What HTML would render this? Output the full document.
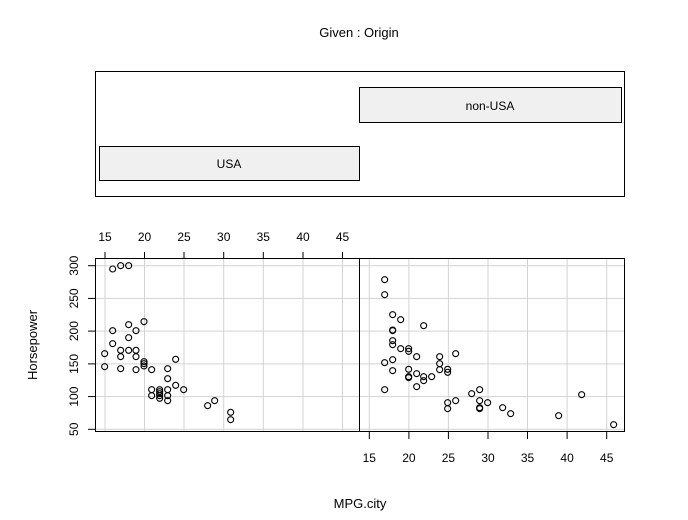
<!DOCTYPE html>
<html><head><meta charset="utf-8"><style>
html,body{margin:0;padding:0;background:#fff;}
svg{display:block;font-family:"Liberation Sans",Arial,sans-serif;}
</style></head><body>
<svg width="688" height="520" viewBox="0 0 688 520" xmlns="http://www.w3.org/2000/svg">
<rect width="688" height="520" fill="#fff"/>
<text x="359" y="37" font-size="13" text-anchor="middle">Given : Origin</text>
<rect x="95.5" y="71.5" width="529" height="125" fill="none" stroke="#000"/>
<rect x="99.5" y="146.5" width="260" height="34" fill="#f0f0f0" stroke="#000"/>
<text x="229" y="168" font-size="12" text-anchor="middle">USA</text>
<rect x="359.5" y="87.5" width="262" height="35" fill="#f0f0f0" stroke="#000"/>
<text x="490" y="110" font-size="12" text-anchor="middle">non-USA</text>

<g stroke="#d3d3d3" stroke-width="1">
<line x1="105" y1="259" x2="105" y2="432"/><line x1="144.5" y1="259" x2="144.5" y2="432"/><line x1="184" y1="259" x2="184" y2="432"/><line x1="223.7" y1="259" x2="223.7" y2="432"/><line x1="263.3" y1="259" x2="263.3" y2="432"/><line x1="303" y1="259" x2="303" y2="432"/><line x1="342.5" y1="259" x2="342.5" y2="432"/>
<line x1="369.3" y1="259" x2="369.3" y2="432"/><line x1="408.9" y1="259" x2="408.9" y2="432"/><line x1="448.4" y1="259" x2="448.4" y2="432"/><line x1="488" y1="259" x2="488" y2="432"/><line x1="527.5" y1="259" x2="527.5" y2="432"/><line x1="567.1" y1="259" x2="567.1" y2="432"/><line x1="606.7" y1="259" x2="606.7" y2="432"/>
<line x1="95" y1="265.7" x2="625" y2="265.7"/><line x1="95" y1="298.4" x2="625" y2="298.4"/><line x1="95" y1="331.1" x2="625" y2="331.1"/><line x1="95" y1="363.9" x2="625" y2="363.9"/><line x1="95" y1="396.6" x2="625" y2="396.6"/><line x1="95" y1="429.3" x2="625" y2="429.3"/>
</g>
<rect x="95.5" y="258.5" width="264" height="173" fill="none" stroke="#000"/>
<rect x="359.5" y="258.5" width="265" height="173" fill="none" stroke="#000"/>

<g stroke="#000">
<line x1="105" y1="252" x2="105" y2="258"/><line x1="144.5" y1="252" x2="144.5" y2="258"/><line x1="184" y1="252" x2="184" y2="258"/><line x1="223.7" y1="252" x2="223.7" y2="258"/><line x1="263.3" y1="252" x2="263.3" y2="258"/><line x1="303" y1="252" x2="303" y2="258"/><line x1="342.5" y1="252" x2="342.5" y2="258"/>
<line x1="369.3" y1="432" x2="369.3" y2="439"/><line x1="408.9" y1="432" x2="408.9" y2="439"/><line x1="448.4" y1="432" x2="448.4" y2="439"/><line x1="488" y1="432" x2="488" y2="439"/><line x1="527.5" y1="432" x2="527.5" y2="439"/><line x1="567.1" y1="432" x2="567.1" y2="439"/><line x1="606.7" y1="432" x2="606.7" y2="439"/>
<line x1="88" y1="265.7" x2="95" y2="265.7"/><line x1="88" y1="298.4" x2="95" y2="298.4"/><line x1="88" y1="331.1" x2="95" y2="331.1"/><line x1="88" y1="363.9" x2="95" y2="363.9"/><line x1="88" y1="396.6" x2="95" y2="396.6"/><line x1="88" y1="429.3" x2="95" y2="429.3"/>
</g>
<g font-size="12" text-anchor="middle">
<text x="105" y="241">15</text><text x="144.5" y="241">20</text><text x="184" y="241">25</text><text x="223.7" y="241">30</text><text x="263.3" y="241">35</text><text x="303" y="241">40</text><text x="342.5" y="241">45</text>
<text x="369.3" y="462">15</text><text x="408.9" y="462">20</text><text x="448.4" y="462">25</text><text x="488" y="462">30</text><text x="527.5" y="462">35</text><text x="567.1" y="462">40</text><text x="606.7" y="462">45</text>
<text transform="translate(78,265.7) rotate(-90)">300</text><text transform="translate(78,298.4) rotate(-90)">250</text><text transform="translate(78,331.1) rotate(-90)">200</text><text transform="translate(78,363.9) rotate(-90)">150</text><text transform="translate(78,396.6) rotate(-90)">100</text><text transform="translate(78,429.3) rotate(-90)">50</text>
</g>
<text x="360" y="508" font-size="13" text-anchor="middle">MPG.city</text>
<text transform="translate(37,345) rotate(-90)" font-size="13" text-anchor="middle">Horsepower</text>

<g fill="none" stroke="#000" stroke-width="3.3">
<g transform="translate(60,220) scale(0.3333)">
<circle cx="158" cy="147" r="9"/><circle cx="182" cy="137" r="9"/><circle cx="206" cy="137" r="9"/><circle cx="158" cy="332" r="9"/><circle cx="206" cy="314" r="9"/><circle cx="228" cy="332" r="9"/><circle cx="252" cy="305" r="9"/><circle cx="206" cy="353" r="9"/><circle cx="158" cy="371" r="9"/><circle cx="182" cy="391" r="9"/><circle cx="206" cy="391" r="9"/><circle cx="228" cy="391" r="9"/><circle cx="134" cy="401" r="9"/><circle cx="182" cy="410" r="9"/><circle cx="228" cy="410" r="9"/><circle cx="134" cy="440" r="9"/><circle cx="252" cy="425" r="9"/><circle cx="252" cy="431" r="9"/><circle cx="252" cy="438" r="9"/><circle cx="182" cy="446" r="9"/><circle cx="228" cy="449" r="9"/><circle cx="275" cy="449" r="9"/><circle cx="323" cy="446" r="9"/><circle cx="347" cy="418" r="9"/><circle cx="323" cy="476" r="9"/><circle cx="347" cy="496" r="9"/><circle cx="371" cy="509" r="9"/><circle cx="275" cy="509" r="9"/><circle cx="275" cy="527" r="9"/><circle cx="299" cy="509" r="9"/><circle cx="299" cy="515" r="9"/><circle cx="299" cy="521" r="9"/><circle cx="299" cy="527" r="9"/><circle cx="299" cy="535" r="9"/><circle cx="323" cy="509" r="9"/><circle cx="323" cy="527" r="9"/><circle cx="323" cy="542" r="9"/><circle cx="443" cy="557" r="9"/><circle cx="464" cy="542" r="9"/><circle cx="512" cy="577" r="9"/><circle cx="512" cy="599" r="9"/>
</g>
<g transform="translate(350,240) scale(0.3333)">
<circle cx="104" cy="119" r="9"/><circle cx="104" cy="164" r="9"/><circle cx="128" cy="224" r="9"/><circle cx="152" cy="239" r="9"/><circle cx="221" cy="257" r="9"/><circle cx="128" cy="270" r="9"/><circle cx="128" cy="272" r="9"/><circle cx="128" cy="302" r="9"/><circle cx="128" cy="314" r="9"/><circle cx="152" cy="326" r="9"/><circle cx="176" cy="326" r="9"/><circle cx="176" cy="334" r="9"/><circle cx="200" cy="350" r="9"/><circle cx="269" cy="350" r="9"/><circle cx="317" cy="341" r="9"/><circle cx="104" cy="368" r="9"/><circle cx="128" cy="359" r="9"/><circle cx="269" cy="371" r="9"/><circle cx="176" cy="388" r="9"/><circle cx="128" cy="392" r="9"/><circle cx="269" cy="389" r="9"/><circle cx="293" cy="388" r="9"/><circle cx="293" cy="397" r="9"/><circle cx="200" cy="401" r="9"/><circle cx="176" cy="410" r="9"/><circle cx="176" cy="413" r="9"/><circle cx="221" cy="410" r="9"/><circle cx="245" cy="410" r="9"/><circle cx="221" cy="422" r="9"/><circle cx="200" cy="440" r="9"/><circle cx="104" cy="449" r="9"/><circle cx="389" cy="449" r="9"/><circle cx="365" cy="461" r="9"/><circle cx="695" cy="464" r="9"/><circle cx="389" cy="482" r="9"/><circle cx="317" cy="482" r="9"/><circle cx="293" cy="488" r="9"/><circle cx="413" cy="488" r="9"/><circle cx="293" cy="506" r="9"/><circle cx="389" cy="503" r="9"/><circle cx="389" cy="506" r="9"/><circle cx="458" cy="503" r="9"/><circle cx="482" cy="521" r="9"/><circle cx="626" cy="527" r="9"/><circle cx="791" cy="554" r="9"/>
</g>
</g>
</svg>
</body></html>
